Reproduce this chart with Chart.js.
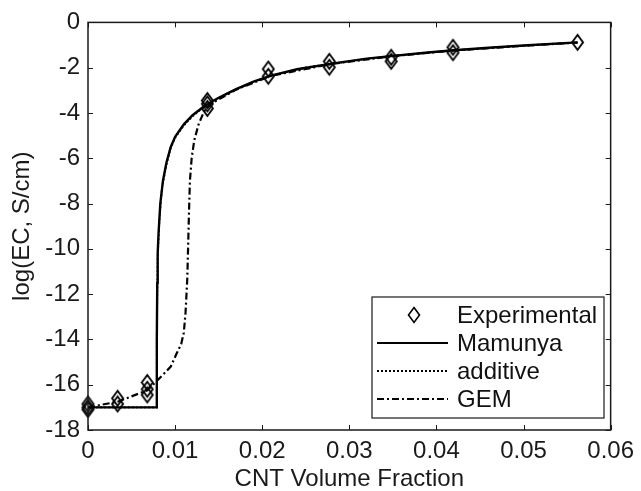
<!DOCTYPE html>
<html>
<head>
<meta charset="utf-8">
<script src="https://cdn.jsdelivr.net/npm/chart.js@4.4.0/dist/chart.umd.min.js"></script>
<style>
  html, body { margin: 0; padding: 0; background: #fff; }
  #wrap { width: 641px; height: 491px; }
</style>
</head>
<body>
<div id="wrap"><canvas id="c" width="641" height="491"></canvas></div>
<script>
// experimental points (several overlapping markers per fraction)
var expX = [0, 0, 0, 0.0034, 0.0034, 0.0068, 0.0068, 0.0068, 0.0137, 0.0137, 0.0137,
            0.0207, 0.0207, 0.0277, 0.0277, 0.0348, 0.0348, 0.0419, 0.0419, 0.0562];
var expY = [-16.85, -17.0, -17.1, -16.6, -16.85, -15.9, -16.2, -16.45, -3.45, -3.6, -3.8,
            -2.06, -2.38, -1.72, -1.98, -1.54, -1.72, -1.1, -1.34, -0.88];

// Mamunya model
var mamX = [0, 0.0079, 0.0079, 0.00795, 0.008, 0.0081, 0.0083, 0.0086, 0.009, 0.0095, 0.010,
            0.011, 0.012, 0.013, 0.014, 0.015, 0.017, 0.019, 0.021, 0.024, 0.028, 0.032,
            0.035, 0.039, 0.042, 0.046, 0.050, 0.0562];
var mamY = [-17, -17, -14, -11.5, -10.2, -9.3, -8.0, -7.0, -6.2, -5.5, -5.05,
            -4.5, -4.1, -3.8, -3.55, -3.33, -2.95, -2.62, -2.35, -2.07, -1.82, -1.6,
            -1.48, -1.33, -1.23, -1.12, -1.02, -0.88];

// additive model
var addX = [0, 0.0079, 0.0079, 0.008, 0.0082, 0.0085, 0.009, 0.0095, 0.010, 0.011, 0.012,
            0.013, 0.014, 0.016, 0.019, 0.021, 0.025, 0.028, 0.032, 0.035, 0.040, 0.042,
            0.047, 0.0562];
var addY = [-17, -17, -14, -10.4, -8.7, -7.3, -6.3, -5.55, -5.1, -4.55, -4.15,
            -3.83, -3.57, -3.13, -2.63, -2.36, -1.99, -1.83, -1.61, -1.49, -1.3, -1.24,
            -1.1, -0.89];

// GEM model
var gemX = [0, 0.0034, 0.0068, 0.0085, 0.0095, 0.0102, 0.0107, 0.011, 0.0112, 0.0114, 0.0115,
            0.0116, 0.0117, 0.0119, 0.0122, 0.0127, 0.0133, 0.014, 0.017, 0.021, 0.028,
            0.035, 0.042, 0.050, 0.0562];
var gemY = [-17, -16.75, -16.25, -15.6, -15.2, -14.6, -14.2, -13.7, -12.8, -11.3, -9.8,
            -8.3, -7.0, -6.0, -5.2, -4.5, -3.95, -3.62, -2.97, -2.36, -1.83,
            -1.49, -1.24, -1.03, -0.89];

var xTicks = [0, 0.01, 0.02, 0.03, 0.04, 0.05, 0.06];
var yTicks = [0, -2, -4, -6, -8, -10, -12, -14, -16, -18];

var legendNames = ['Experimental', 'Mamunya', 'additive', 'GEM'];

var FONT = '"Liberation Sans", Arial, Helvetica, sans-serif';
var INK = '#1a1a1a';

function pairs(xs, ys) {
    return xs.map(function (x, i) { return {x: x, y: ys[i]}; });
}

// diamond marker like matlab 'd'
function diamondPath(ctx, cx, cy, w, h) {
    ctx.beginPath();
    ctx.moveTo(cx, cy - h / 2);
    ctx.lineTo(cx + w / 2, cy);
    ctx.lineTo(cx, cy + h / 2);
    ctx.lineTo(cx - w / 2, cy);
    ctx.closePath();
}
var diamond = document.createElement('canvas');
diamond.width = 15;
diamond.height = 19;
(function () {
    var g = diamond.getContext('2d');
    g.strokeStyle = '#000';
    g.lineWidth = 1.9;
    diamondPath(g, 7.5, 9.5, 11, 15);
    g.stroke();
})();

// frame with inward ticks on all four sides, plus the legend box
var framePlugin = {
    id: 'frame',
    afterDraw: function (chart) {
        var ctx = chart.ctx;
        var a = chart.chartArea;
        var xs = chart.scales.x, ys = chart.scales.y;
        ctx.save();
        ctx.strokeStyle = INK;
        ctx.lineWidth = 1.5;
        ctx.strokeRect(a.left, a.top, a.right - a.left, a.bottom - a.top);
        ctx.lineWidth = 1;
        ctx.beginPath();
        xTicks.forEach(function (v) {
            var px = Math.round(xs.getPixelForValue(v)) + 0.5;
            ctx.moveTo(px, a.bottom); ctx.lineTo(px, a.bottom - 5);
            ctx.moveTo(px, a.top); ctx.lineTo(px, a.top + 5);
        });
        yTicks.forEach(function (v) {
            var py = Math.round(ys.getPixelForValue(v)) + 0.5;
            ctx.moveTo(a.left, py); ctx.lineTo(a.left + 5, py);
            ctx.moveTo(a.right, py); ctx.lineTo(a.right - 5, py);
        });
        ctx.stroke();

        // legend
        var bx = 372, by = 297, bw = 232, bh = 121;
        ctx.fillStyle = '#fff';
        ctx.fillRect(bx, by, bw, bh);
        ctx.lineWidth = 1.2;
        ctx.strokeRect(bx, by, bw, bh);
        var rows = [315, 343, 371, 399];
        ctx.font = '24px ' + FONT;
        ctx.fillStyle = '#111';
        ctx.textBaseline = 'middle';
        legendNames.forEach(function (name, i) {
            ctx.fillText(name, 457, rows[i] + 1);
        });
        ctx.strokeStyle = '#000';
        ctx.lineWidth = 1.6;
        diamondPath(ctx, 414, rows[0], 11, 15);
        ctx.stroke();
        var dashes = [[], [2, 2], [7, 3, 2, 3]];
        dashes.forEach(function (d, i) {
            ctx.setLineDash(d);
            ctx.lineWidth = 2;
            ctx.beginPath();
            ctx.moveTo(377, rows[i + 1]);
            ctx.lineTo(448, rows[i + 1]);
            ctx.stroke();
        });
        ctx.restore();
    }
};

new Chart(document.getElementById('c'), {
    type: 'scatter',
    data: {
        datasets: [
            {
                label: 'Experimental',
                data: pairs(expX, expY),
                pointStyle: diamond,
                pointRadius: 8,
                showLine: false,
                clip: false
            },
            {
                label: 'Mamunya',
                data: pairs(mamX, mamY),
                showLine: true,
                borderColor: '#000',
                borderWidth: 2.4,
                pointRadius: 0,
                tension: 0
            },
            {
                label: 'additive',
                data: pairs(addX, addY),
                showLine: true,
                borderColor: '#000',
                borderWidth: 1.8,
                borderDash: [2, 2],
                pointRadius: 0,
                tension: 0
            },
            {
                label: 'GEM',
                data: pairs(gemX, gemY),
                showLine: true,
                borderColor: '#000',
                borderWidth: 2.2,
                borderDash: [7, 3, 2, 3],
                pointRadius: 0,
                tension: 0
            }
        ]
    },
    options: {
        responsive: false,
        animation: false,
        events: [],
        layout: { padding: { top: 22, right: 25, left: 0, bottom: 0 } },
        plugins: {
            legend: { display: false },
            tooltip: { enabled: false }
        },
        scales: {
            x: {
                type: 'linear',
                min: 0,
                max: 0.06,
                afterFit: function (s) { s.height = 61; },
                afterBuildTicks: function (s) {
                    s.ticks = xTicks.map(function (v) { return {value: v}; });
                },
                grid: { display: false, drawTicks: false },
                border: { display: false },
                ticks: {
                    padding: 7,
                    color: INK,
                    font: { family: FONT, size: 24 },
                    maxRotation: 0,
                    callback: function (v) { return v === 0 ? '0' : String(+v.toFixed(2)); }
                },
                title: {
                    display: true,
                    text: 'CNT Volume Fraction',
                    color: INK,
                    font: { family: FONT, size: 24, lineHeight: 1 },
                    padding: { top: 1, bottom: 0 }
                }
            },
            y: {
                type: 'linear',
                min: -18,
                max: 0,
                afterFit: function (s) { s.width = 88; },
                afterBuildTicks: function (s) {
                    s.ticks = yTicks.map(function (v) { return {value: v}; });
                },
                grid: { display: false, drawTicks: false },
                border: { display: false },
                ticks: {
                    padding: 8,
                    color: INK,
                    font: { family: FONT, size: 24 },
                    callback: function (v) { return String(v); }
                },
                title: {
                    display: true,
                    text: 'log(EC, S/cm)',
                    color: INK,
                    font: { family: FONT, size: 24, lineHeight: 1 },
                    padding: { top: 10, bottom: 0 }
                }
            }
        }
    },
    plugins: [framePlugin]
});
</script>
</body>
</html>
